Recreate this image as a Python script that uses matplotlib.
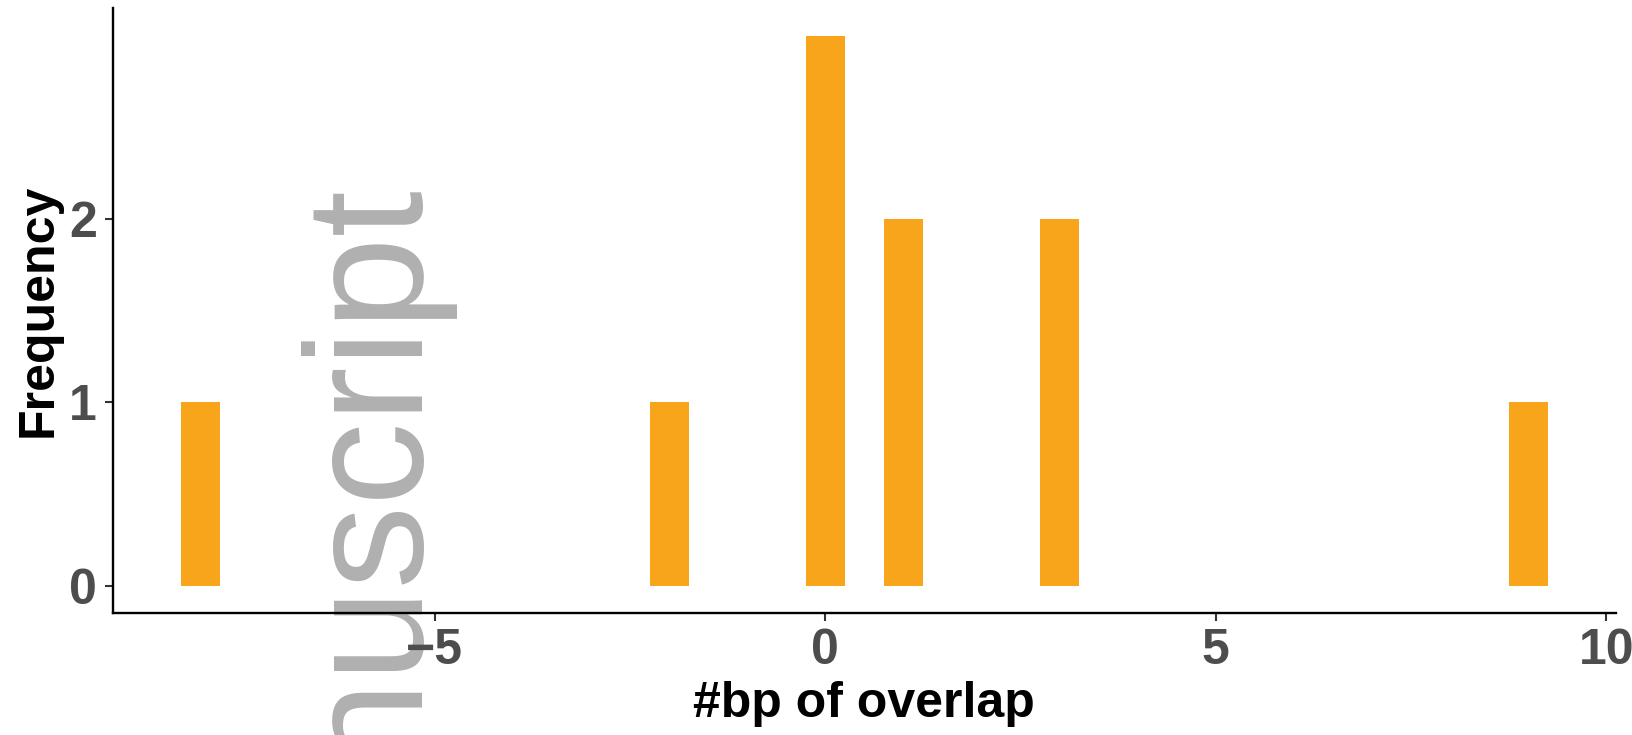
import matplotlib
matplotlib.use("Agg")
import matplotlib.pyplot as plt

# Data
overlap_bp = [-8, -2, 0, 1, 3, 9]
frequency = [1, 1, 3, 2, 2, 1]
x_ticks = [-5, 0, 5, 10]
y_ticks = [0, 1, 2]
x_label = "#bp of overlap"
y_label = "Frequency"
watermark = "Author Manuscript"

W, H, DPI = 1632, 735, 100
fig = plt.figure(figsize=(W / DPI, H / DPI), dpi=DPI)
fig.patch.set_facecolor("white")

left_px, right_px, top_px, bottom_px = 112.7, 1616.0, 8.3, 613.3
ax = fig.add_axes([left_px / W, 1 - bottom_px / H,
                   (right_px - left_px) / W, (bottom_px - top_px) / H])
ax.patch.set_visible(False)

ax.bar(overlap_bp, frequency, width=0.5, color="#F9A51C", zorder=2)

ax.set_xlim(-9.125, 10.125)
ax.set_ylim(-0.15, 3.15)
ax.set_xticks(x_ticks)
ax.set_yticks(y_ticks)
ax.set_xticklabels(["\u22125", "0", "5", "10"])

for side in ("top", "right"):
    ax.spines[side].set_visible(False)
for side in ("left", "bottom"):
    ax.spines[side].set_linewidth(1.7)
    ax.spines[side].set_color("black")

tick_font = dict(family="Liberation Sans", weight="bold", size=36)
ax.tick_params(axis="both", length=5.5, width=1.5, color="#333333",
               labelcolor="#4D4D4D")
ax.tick_params(axis="x", pad=5)
ax.tick_params(axis="y", pad=6)
for lab in ax.get_xticklabels() + ax.get_yticklabels():
    lab.set_fontfamily("Liberation Sans")
    lab.set_fontweight("bold")
    lab.set_fontsize(36)

ax.set_xlabel(x_label, fontfamily="Liberation Sans", fontweight="bold",
              fontsize=36, color="black")
ax.set_ylabel(y_label, fontfamily="Liberation Sans", fontweight="bold",
              fontsize=36, color="black")
axw = right_px - left_px
axh = bottom_px - top_px
ax.xaxis.set_label_coords(0.5, -(681 - bottom_px) / axh)
ax.yaxis.set_label_coords((62 - left_px) / axw, 0.5)

# Watermark (rotated, partially outside the figure)
fig.text(423 / W, 1 - 190 / H, watermark, rotation=90, rotation_mode="anchor",
         ha="right", va="baseline", fontsize=120, family="Liberation Sans",
         color="#B0B0B0", zorder=-5)

fig.savefig("out.png", dpi=DPI, facecolor="white")
